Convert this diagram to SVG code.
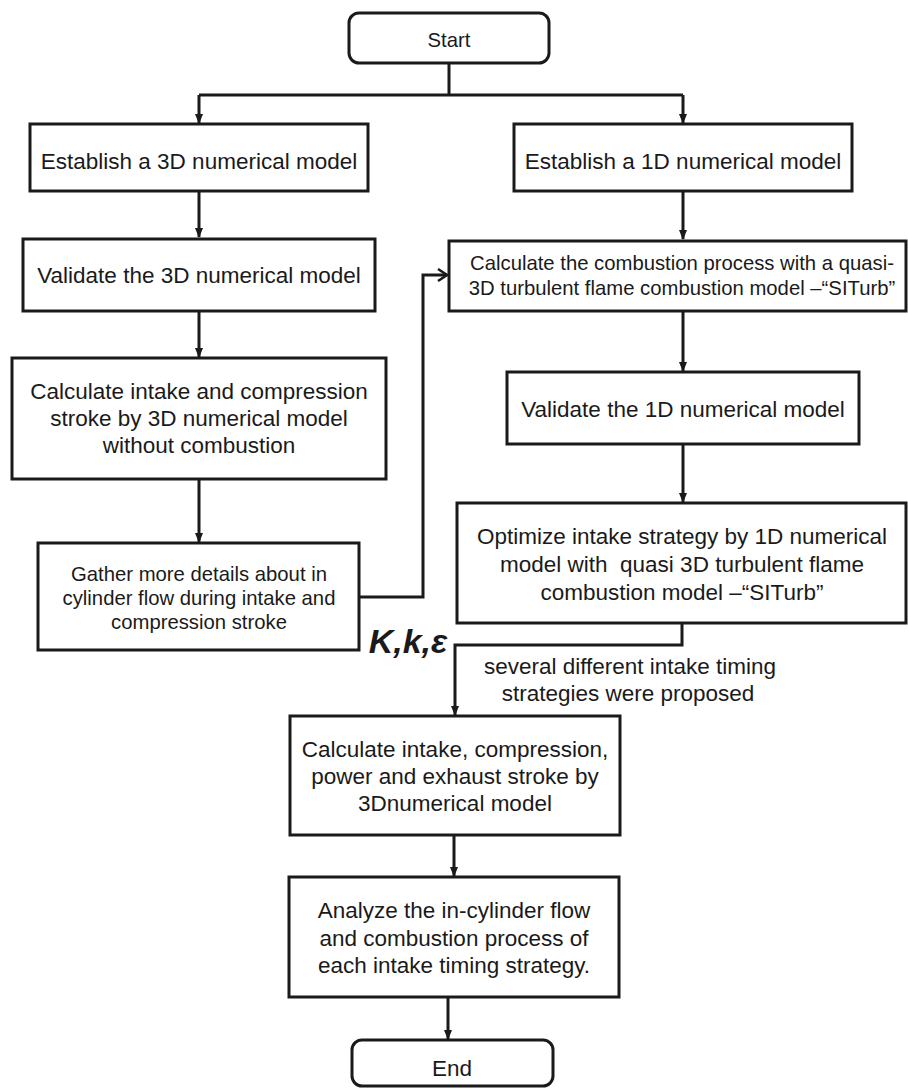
<svg xmlns="http://www.w3.org/2000/svg" width="908" height="1089" viewBox="0 0 908 1089">
<defs>
<style>
.box{fill:#fff;stroke:#1a1a1a;stroke-width:3}
.t{font-family:"Liberation Sans",Arial,sans-serif;font-size:22.5px;fill:#1a1a1a;text-anchor:middle}
.s{font-size:20.3px}
.ln{fill:none;stroke:#1a1a1a;stroke-width:3}
</style>
<marker id="ah" markerWidth="10" markerHeight="10" refX="9" refY="5" orient="auto" markerUnits="userSpaceOnUse">
<path d="M0,1 L10,5 L0,9 Z" fill="#1a1a1a"/>
</marker>
<marker id="ao" markerWidth="14" markerHeight="14" refX="12" refY="7" orient="auto" markerUnits="userSpaceOnUse">
<path d="M3,1 L12,7 L3,13" fill="none" stroke="#1a1a1a" stroke-width="2.5"/>
</marker>
</defs>
<rect width="908" height="1089" fill="#fff"/>

<g id="connectors">
<path class="ln" d="M449,63 V95"/>
<path class="ln" d="M199,95 H683"/>
<path class="ln" d="M199,95 V123" marker-end="url(#ah)"/>
<path class="ln" d="M683,95 V123" marker-end="url(#ah)"/>
<path class="ln" d="M199,191 V237" marker-end="url(#ah)"/>
<path class="ln" d="M683,191 V239" marker-end="url(#ah)"/>
<path class="ln" d="M199,311 V357" marker-end="url(#ah)"/>
<path class="ln" d="M199,479 V542" marker-end="url(#ah)"/>
<path class="ln" d="M359,597 H423 V275 H447" marker-end="url(#ao)"/>
<path class="ln" d="M683,311 V371" marker-end="url(#ah)"/>
<path class="ln" d="M683,444 V502" marker-end="url(#ah)"/>
<path class="ln" d="M682,623 V645 H455 V715" marker-end="url(#ah)"/>
<path class="ln" d="M454,835 V876" marker-end="url(#ah)"/>
<path class="ln" d="M448,997 V1039" marker-end="url(#ah)"/>
<text x="408" y="653" style="font-family:'Liberation Sans',Arial,sans-serif;font-size:34px;font-weight:bold;font-style:italic;fill:#1a1a1a;text-anchor:middle">K,k,ε</text>
<text class="t" x="630" y="674">several different intake timing</text>
<text class="t" x="628" y="701">strategies were proposed</text>
</g>

<g id="start">
<rect class="box" x="349" y="13" width="200" height="50" rx="10"/>
<text class="t s" x="449" y="47">Start</text>
</g>

<g id="establish3d">
<rect class="box" x="30" y="124" width="338" height="67"/>
<text class="t" x="199" y="169">Establish a 3D numerical model</text>
</g>

<g id="establish1d">
<rect class="box" x="514" y="124" width="338" height="67"/>
<text class="t" x="683" y="169">Establish a 1D numerical model</text>
</g>

<g id="validate3d">
<rect class="box" x="23" y="239" width="352" height="72"/>
<text class="t" x="199" y="283">Validate the 3D numerical model</text>
</g>

<g id="combustion">
<rect class="box" x="449" y="241" width="457" height="70"/>
<text class="t s" x="682" y="270">Calculate the combustion process with a quasi-</text>
<text class="t s" x="682" y="295">3D turbulent flame combustion model –“SITurb”</text>
</g>

<g id="calcintake">
<rect class="box" x="12" y="358" width="374" height="121"/>
<text class="t" x="199" y="399">Calculate intake and compression</text>
<text class="t" x="199" y="426">stroke by 3D numerical model</text>
<text class="t" x="199" y="453">without combustion</text>
</g>

<g id="validate1d">
<rect class="box" x="507" y="372" width="352" height="72"/>
<text class="t" x="683" y="417">Validate the 1D numerical model</text>
</g>

<g id="gather">
<rect class="box" x="38" y="543" width="321" height="107"/>
<text class="t s" x="199" y="581">Gather more details about in</text>
<text class="t s" x="199" y="605">cylinder flow during intake and</text>
<text class="t s" x="199" y="629">compression stroke</text>
</g>

<g id="optimize">
<rect class="box" x="457" y="503" width="449" height="120"/>
<text class="t" x="682" y="544">Optimize intake strategy by 1D numerical</text>
<text class="t" x="682" y="572">model with &#160;quasi 3D turbulent flame</text>
<text class="t" x="682" y="600">combustion model –“SITurb”</text>
</g>

<g id="calcall">
<rect class="box" x="290" y="716" width="330" height="119"/>
<text class="t" x="455" y="757">Calculate intake, compression,</text>
<text class="t" x="455" y="784">power and exhaust stroke by</text>
<text class="t" x="455" y="811">3Dnumerical model</text>
</g>

<g id="analyze">
<rect class="box" x="289" y="877" width="330" height="120"/>
<text class="t" x="454" y="918">Analyze the in-cylinder flow</text>
<text class="t" x="454" y="946">and combustion process of</text>
<text class="t" x="454" y="973">each intake timing strategy.</text>
</g>

<g id="end">
<rect class="box" x="352" y="1040" width="201" height="46" rx="10"/>
<text class="t" x="452" y="1076">End</text>
</g>
</svg>
